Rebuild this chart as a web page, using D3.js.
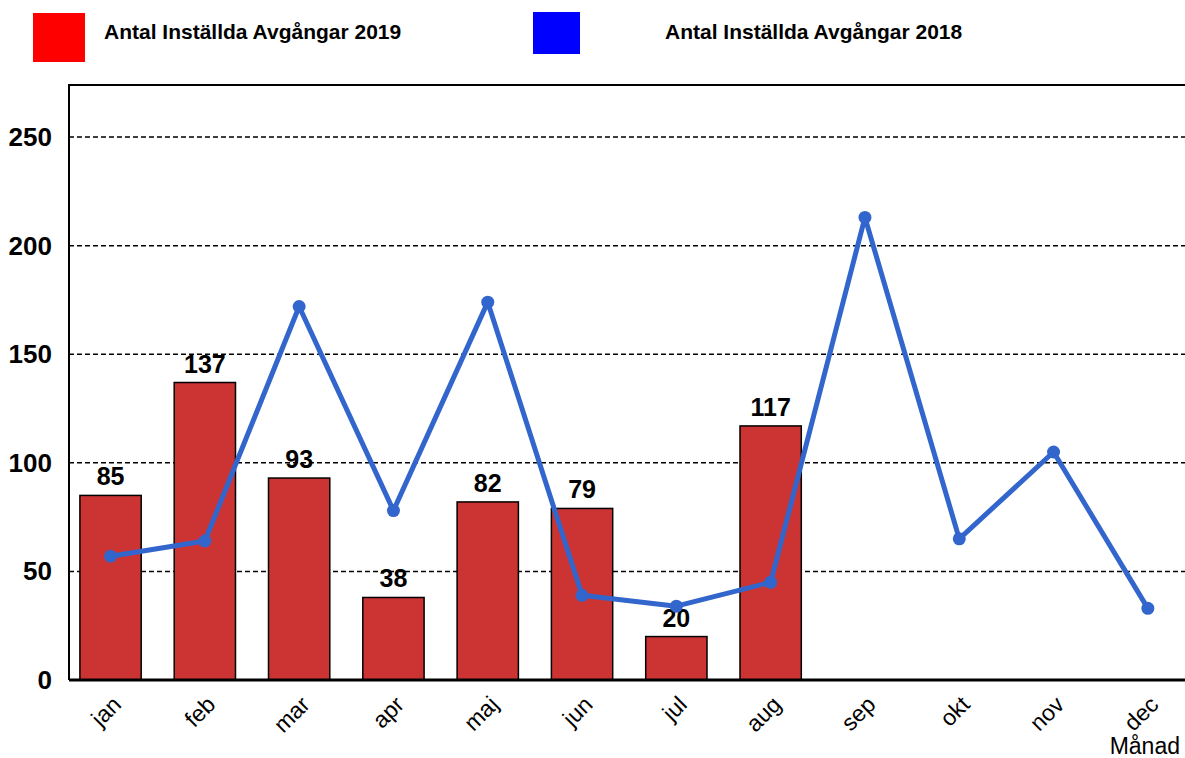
<html>
<head>
<script src="https://cdn.jsdelivr.net/npm/d3@7"></script>
<style>
	body{ margin:0; background:#fff; }
	svg{ font-family:"Liberation Sans", Arial, sans-serif; }
	.grid line{ stroke:#000; stroke-width:1.5; stroke-dasharray:5,3; }
</style>
</head>
<body>
<div id="container"></div>
<script>
	var months = ["jan","feb","mar","apr","maj","jun","jul","aug","sep","okt","nov","dec"];
	var values2019 = [85,137,93,38,82,79,20,117];
	var values2018 = [57,64,172,78,174,39,34,45,213,65,105,33];
	var yTicks = [0,50,100,150,200,250];
	var legendLabels = ["Antal Inställda Avgångar 2019","Antal Inställda Avgångar 2018"];

	var W = 1185, H = 758;
	var svg = d3.select("#container").append("svg")
		.attr("width", W).attr("height", H);

	var x = d3.scaleBand()
		.domain(months)
		.range([63.4, 1195])
		.paddingInner(0.35)
		.paddingOuter(0.175);

	var y = d3.scaleLinear()
		.domain([0, 274])
		.range([680, 85]);

	// gridlines
	svg.append("g").attr("class", "grid")
		.selectAll("line").data(yTicks.filter(function(d){ return d > 0; })).enter()
		.append("line")
			.attr("x1", 69).attr("x2", W)
			.attr("y1", function(d){ return y(d); })
			.attr("y2", function(d){ return y(d); });

	// top border
	svg.append("line")
		.attr("x1", 69).attr("x2", W)
		.attr("y1", y(274)).attr("y2", y(274))
		.attr("stroke", "#000").attr("stroke-width", 2);

	// bars
	var bars2019 = values2019.map(function(v, i){ return {m: months[i], v: v}; });
	svg.append("g").selectAll("rect").data(bars2019).enter()
		.append("rect")
			.attr("x", function(d){ return x(d.m); })
			.attr("y", function(d){ return y(d.v); })
			.attr("width", x.bandwidth())
			.attr("height", function(d){ return y(0) - y(d.v); })
			.attr("fill", "#CC3333")
			.attr("stroke", "#000")
			.attr("stroke-width", 1.5);

	svg.append("g").selectAll("text").data(bars2019).enter()
		.append("text")
			.attr("x", function(d){ return x(d.m) + x.bandwidth()/2; })
			.attr("y", function(d){ return y(d.v) - 10; })
			.attr("text-anchor", "middle")
			.attr("font-size", 25).attr("font-weight", "bold")
			.text(function(d){ return d.v; });

	// 2018 line
	var pts = values2018.map(function(v, i){ return {m: months[i], v: v}; });
	var line = d3.line()
		.x(function(d){ return x(d.m) + x.bandwidth()/2; })
		.y(function(d){ return y(d.v); });

	svg.append("path").datum(pts)
		.attr("d", line)
		.attr("fill", "none")
		.attr("stroke", "#3366CC")
		.attr("stroke-width", 5)
		.attr("stroke-linejoin", "round");

	svg.append("g").selectAll("circle").data(pts).enter()
		.append("circle")
			.attr("cx", function(d){ return x(d.m) + x.bandwidth()/2; })
			.attr("cy", function(d){ return y(d.v); })
			.attr("r", 6.5)
			.attr("fill", "#3366CC");

	// y axis
	var yAxis = d3.axisLeft(y).tickValues(yTicks).tickSize(0).tickPadding(17);
	var gy = svg.append("g").attr("transform", "translate(69,0)").call(yAxis);
	gy.select(".domain").remove();
	gy.selectAll("text")
		.attr("font-size", 26).attr("font-weight", "bold")
		.attr("font-family", "Liberation Sans, Arial, sans-serif")
		.attr("fill", "#000");
	svg.append("line")
		.attr("x1", 69).attr("x2", 69)
		.attr("y1", y(274) - 1).attr("y2", y(0))
		.attr("stroke", "#000").attr("stroke-width", 2);

	// x axis
	var xAxis = d3.axisBottom(x).tickSize(0).tickPadding(0);
	var gx = svg.append("g").attr("transform", "translate(0,680)").call(xAxis);
	gx.select(".domain").remove();
	gx.selectAll("text")
		.attr("font-size", 23)
		.attr("font-family", "Liberation Sans, Arial, sans-serif")
		.attr("fill", "#000")
		.attr("text-anchor", "end")
		.attr("dy", "0")
		.attr("transform", "translate(12,26) rotate(-45)");
	svg.append("line")
		.attr("x1", 69).attr("x2", W)
		.attr("y1", y(0)).attr("y2", y(0))
		.attr("stroke", "#000").attr("stroke-width", 3);

	svg.append("text")
		.attr("x", 1180).attr("y", 754)
		.attr("text-anchor", "end")
		.attr("font-size", 23)
		.text("Månad");

	// legend
	var legendColors = ["#FF0000", "#0000FF"];
	var legendBoxes = [[33, 13, 52, 49], [533, 12, 47, 42]];
	var legendTextX = [104, 665];
	legendLabels.forEach(function(t, i){
		var b = legendBoxes[i];
		svg.append("rect")
			.attr("x", b[0]).attr("y", b[1])
			.attr("width", b[2]).attr("height", b[3])
			.attr("fill", legendColors[i]);
		svg.append("text")
			.attr("x", legendTextX[i]).attr("y", 39)
			.attr("font-size", 21).attr("font-weight", "bold")
			.text(t);
	});
</script>
</body>
</html>
